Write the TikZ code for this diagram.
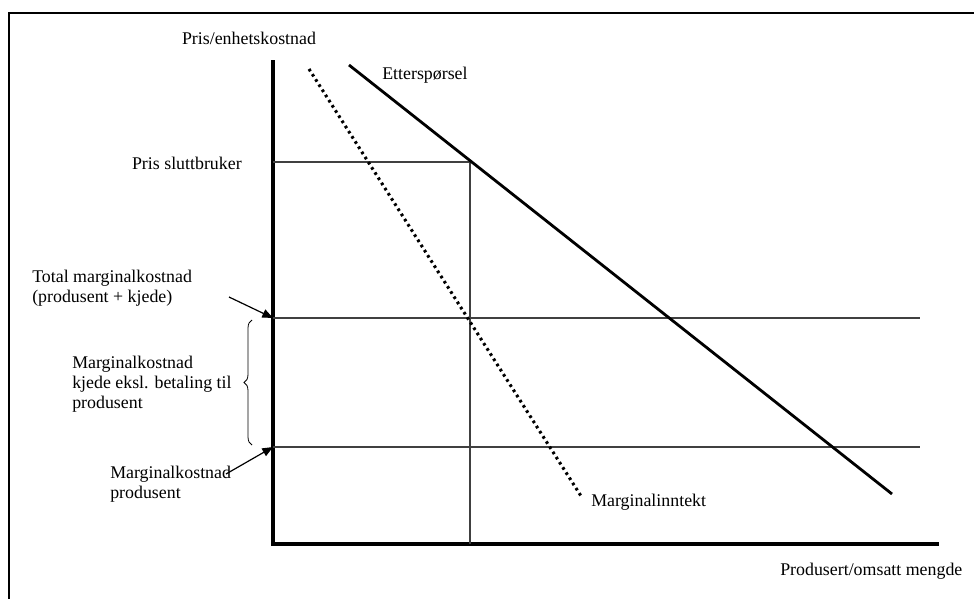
\documentclass[tikz,border=0pt]{standalone}
\usepackage{fontspec}
\setmainfont{Liberation Serif}
\usepackage{tikz}
\usetikzlibrary{arrows.meta,decorations.pathreplacing}
\tikzset{
	% The axes of the diagram
	axisline/.style={
		draw=black,line width=2.6pt,line cap=rect
	},
	% The demand curve
	demand/.style={
		draw=black,line width=2.1pt
	},
	% The marginal revenue curve
	revenue/.style={
		draw=black,line width=2.3pt,dash pattern=on 2pt off 2.6pt
	},
	% The thin help lines for price and costs
	level/.style={
		draw=black!75,line width=0.9pt
	},
	% The texts
	caption/.style={
		font=\fontsize{13.4}{15}\selectfont,inner sep=0pt,align=left
	},
	% The pointers from the texts
	pointer/.style={
		draw=black,line width=0.9pt,-{Triangle[length=8pt,width=6.5pt]}
	},
}

\begin{document}
\begin{tikzpicture}[x=0.75pt,y=-0.75pt]
		\useasboundingbox (0,0) rectangle (974,599);
		% Frame
		\draw [line width=1.8pt] (9,603) -- (9,13) -- (980,13);

		% Axes
		\coordinate (Top) at (273,62);
		\coordinate (Origin) at (273,544);
		\coordinate (End) at (937,544);
		\draw [axisline] (Top) -- (Origin) -- (End);

		% Levels
		\coordinate (Price) at (273,162);
		\coordinate (Price corner) at (470,162);
		\coordinate (Price foot) at (470,544);
		\coordinate (Total cost) at (273,318);
		\coordinate (Total cost end) at (920,318);
		\coordinate (Producer cost) at (273,447);
		\coordinate (Producer cost end) at (920,447);
		\draw [level] (Price) -- (Price corner) -- (Price foot);
		\draw [level] (Total cost) -- (Total cost end);
		\draw [level] (Producer cost) -- (Producer cost end);

		% Curves
		\coordinate (Demand start) at (349,65);
		\coordinate (Demand end) at (892,494);
		\coordinate (Revenue start) at (309,69);
		\coordinate (Revenue end) at (581,496);
		\draw [demand] (Demand start) -- (Demand end);
		\draw [revenue] (Revenue start) -- (Revenue end);

		% Texts
		\node [caption] (Price axis) at (249,38) {Pris/enhetskostnad};
		\node [caption,anchor=west] (Demand) at (382,75) {Etterspørsel};
		\node [caption,anchor=east] (End price) at (242,163) {Pris sluttbruker};
		\node [caption,anchor=west] (Total) at (32,288) {Total marginalkostnad\\(produsent + kjede)};
		\node [caption,anchor=west] (Chain) at (72,384) {Marginalkostnad\\kjede eksl. betaling til\\produsent};
		\node [caption,anchor=west] (Producer) at (110,484) {Marginalkostnad\\produsent};
		\node [caption,anchor=west] (Revenue) at (591,502) {Marginalinntekt};
		\node [caption,anchor=west] (Quantity axis) at (780,571) {Produsert/omsatt mengde};

		% Brace and pointers
		\draw [line width=0.6pt,decorate,decoration={brace,amplitude=6pt}] (252,445) -- (252,320);
		\coordinate (Total tail) at (229,297);
		\coordinate (Producer tail) at (226,474);
		\draw [pointer] (Total tail) -- (Total cost);
		\draw [pointer] (Producer tail) -- (Producer cost);
	\end{tikzpicture}
\end{document}
